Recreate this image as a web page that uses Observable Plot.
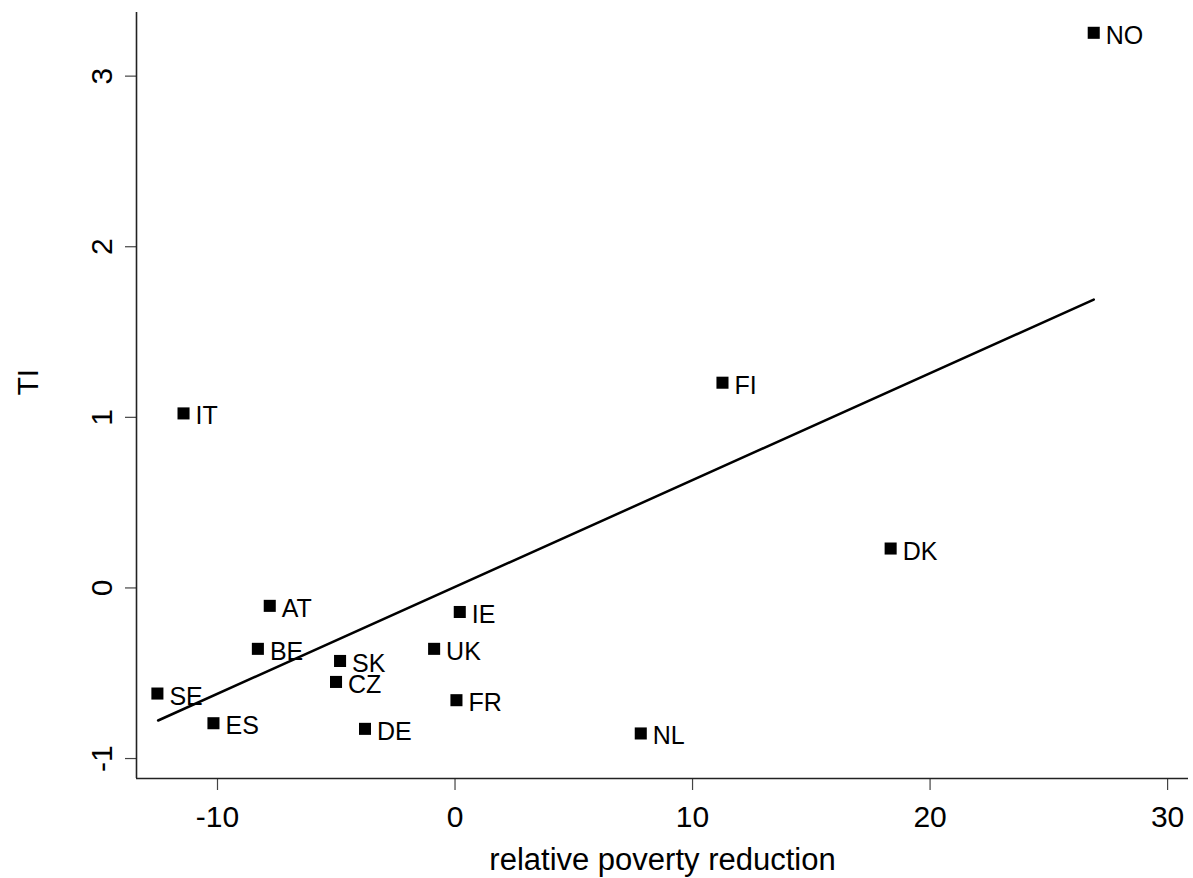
<!DOCTYPE html>
<html>
<head>
<meta charset="utf-8">
<script src="https://cdn.jsdelivr.net/npm/d3@7"></script>
<script src="https://cdn.jsdelivr.net/npm/@observablehq/plot@0.6"></script>
<style>
  html, body { margin: 0; padding: 0; background: #fff; }
  #chart svg { display: block; }
</style>
</head>
<body>
<div id="chart"></div>
<script>
// Data
const countries = ["NO","FI","IT","DK","AT","BE","SE","ES","SK","CZ","DE","IE","UK","FR","NL"];
const povertyReduction = [26.89, 11.26, -11.43, 18.34, -7.80, -8.30, -12.53, -10.17, -4.84, -5.01, -3.79, 0.20, -0.88, 0.06, 7.82];
const tiValues = [3.254, 1.203, 1.023, 0.231, -0.105, -0.357, -0.619, -0.793, -0.428, -0.551, -0.826, -0.141, -0.357, -0.658, -0.853];
// Fitted line endpoints
const fitX = [-12.50, 26.89];
const fitY = [-0.777, 1.690];
// Axes
const xTicks = [-10, 0, 10, 20, 30];
const yTicks = [-1, 0, 1, 2, 3];
const xDomain = [-13.41, 30.88];
const yDomain = [-1.117, 3.373];
const xTitle = "relative poverty reduction";
const yTitle = "TI";

const points = countries.map((c, i) => ({country: c, x: povertyReduction[i], y: tiValues[i]}));
const fit = fitX.map((x, i) => ({x, y: fitY[i]}));
const font = "'Liberation Sans', Arial, Helvetica, sans-serif";

const chart = Plot.plot({
  width: 1193,
  height: 878,
  marginLeft: 136,
  marginRight: 5,
  marginTop: 12,
  marginBottom: 100,
  style: {fontFamily: font, background: "#fff", color: "#000"},
  x: {type: "linear", domain: xDomain, axis: null},
  y: {type: "linear", domain: yDomain, axis: null},
  marks: [
    // tick marks (labels drawn separately)
    Plot.axisX({ticks: xTicks, tickSize: 12, tickFormat: () => "", stroke: "#444", strokeWidth: 1.2, label: null}),
    Plot.axisY({ticks: yTicks, tickSize: 11, tickFormat: () => "", stroke: "#444", strokeWidth: 1.2, label: null}),
    // axis lines
    Plot.ruleX([xDomain[0]], {stroke: "#222", strokeWidth: 1.6}),
    Plot.ruleY([yDomain[0]], {stroke: "#222", strokeWidth: 1.6}),
    // fitted line
    Plot.line(fit, {x: "x", y: "y", stroke: "#000", strokeWidth: 2.5}),
    // points
    Plot.dot(points, {x: "x", y: "y", symbol: "square", r: 6.8, fill: "#000", stroke: null}),
    Plot.text(points, {x: "x", y: "y", text: "country", textAnchor: "start", dx: 12, dy: 3, fontSize: 25, fill: "#000"}),
    // x tick labels
    Plot.text(xTicks, {x: d => d, y: yDomain[0], text: d => String(d), lineAnchor: "top", dy: 27, fontSize: 30, fill: "#000"}),
    // y tick labels (rotated)
    Plot.text(yTicks, {x: xDomain[0], y: d => d, text: d => String(d), rotate: -90, dx: -34, fontSize: 30, fill: "#000"}),
    // axis titles
    Plot.text([xTitle], {frameAnchor: "bottom", text: d => d, lineAnchor: "top", dy: 69, fontSize: 31, fill: "#000"}),
    Plot.text([yTitle], {frameAnchor: "left", text: d => d, rotate: -90, dx: -108, fontSize: 30, fill: "#000"})
  ]
});

document.getElementById("chart").appendChild(chart);
</script>
</body>
</html>
